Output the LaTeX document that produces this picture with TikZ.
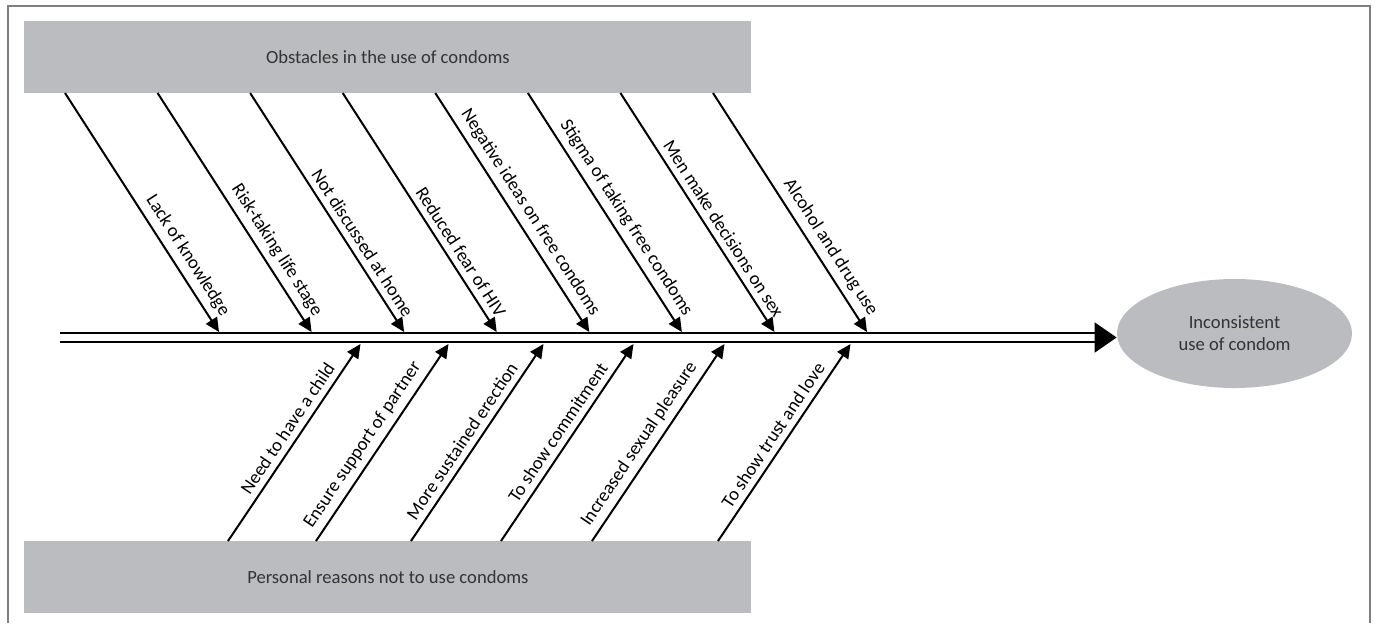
\documentclass[tikz,border=0pt]{standalone}
\usepackage{fontspec}
\setmainfont{Carlito}
\usetikzlibrary{arrows.meta,shapes.geometric}
\definecolor{boxgrey}{HTML}{BBBCBF}
\definecolor{darktext}{HTML}{333333}
\definecolor{framegrey}{HTML}{7F7F7F}
\tikzset{
  causebox/.style={fill=boxgrey, draw=none, inner sep=0pt, minimum width=363.5pt, minimum height=36pt, text=darktext, anchor=north west},
  bone/.style={line width=1pt, -{Triangle[length=7pt,width=6.5pt]}},
  bonelabel/.style={sloped, above, anchor=south east, inner xsep=1pt, inner ysep=3pt},
  spine/.style={line width=1.25pt, double=white, double distance=3.25pt},
  spinetip/.style={-{Triangle[length=11pt,width=15pt]}, line width=1pt}
}
\begin{document}
\begin{tikzpicture}[x=0.5pt,y=-0.5pt,font=\fontsize{9.3}{11}\selectfont]
\useasboundingbox (0,0) rectangle (1375,623);
\draw[framegrey, line width=0.75pt] (8,623) -- (8,6) -- (1370,6) -- (1370,623);

% category boxes and effect
\node[causebox] (obstacles) at (24,21) {Obstacles in the use of condoms};
\node[causebox] (personal) at (24,541) {Personal reasons not to use condoms};
\node[ellipse, fill=boxgrey, text=darktext, align=center, inner sep=0pt,
      minimum width=117.5pt, minimum height=54.5pt] (effect) at (1234.5,333.5)
      {Inconsistent\\use of condom};

% spine
\coordinate (tail) at (60,337.5);
\coordinate (spinehead) at (1095,337.5);
\draw[spine] (tail) -- (spinehead);
\draw[spinetip] (spinehead) -- (spinehead -| effect.west);

% upper bones
\foreach \lab [count=\i from 0] in {Lack of knowledge, Risk-taking life stage,
    Not discussed at home, Reduced fear of HIV, Negative ideas on free condoms,
    Stigma of taking free condoms, Men make decisions on sex, Alcohol and drug use}{
  \pgfmathsetmacro{\xs}{65+92.57*\i}
  \coordinate (top\i) at (\xs,93);
  \coordinate (hit\i) at (\xs+154,332);
  \draw[bone] (top\i) -- (hit\i) node[bonelabel, pos=0.97] {\lab};
}

% lower bones
\foreach \xs/\lab [count=\i] in {228/Need to have a child, 316/Ensure support of partner,
    411/More sustained erection, 501/To show commitment,
    592/Increased sexual pleasure, 718/To show trust and love}{
  \coordinate (low\i) at (\xs,541);
  \coordinate (meet\i) at (\xs+132.5,344);
  \draw[bone] (low\i) -- (meet\i) node[bonelabel, pos=0.87] {\lab};
}
\end{tikzpicture}
\end{document}
